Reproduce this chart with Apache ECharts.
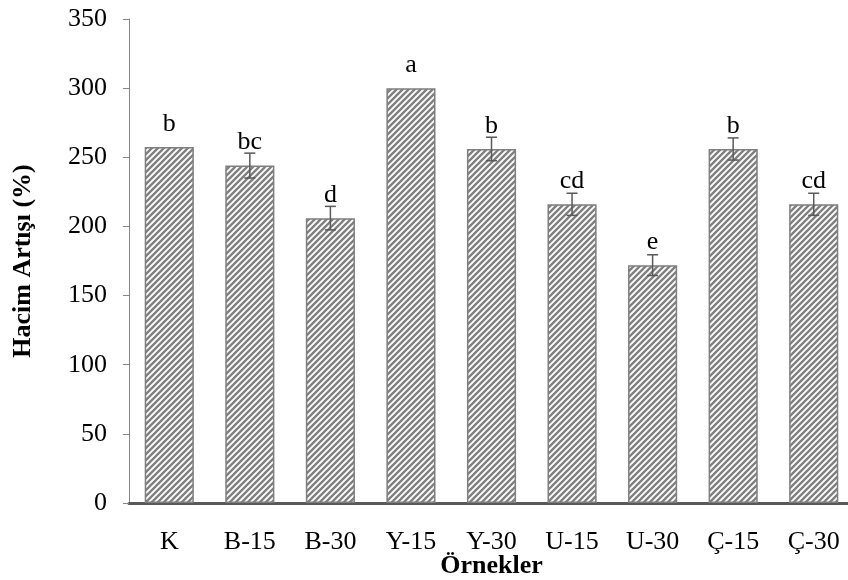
<!DOCTYPE html>
<html>
<head>
<meta charset="utf-8">
<script src="https://cdn.jsdelivr.net/npm/echarts@6/dist/echarts.min.js"></script>
<style>
html,body{margin:0;padding:0;background:#fff;}
#chart{width:848px;height:580px;}
</style>
</head>
<body>
<div id="chart"></div>
<script>
const categories = ['K', 'B-15', 'B-30', 'Y-15', 'Y-30', 'U-15', 'U-30', 'Ç-15', 'Ç-30'];
const values = [257.5, 244, 206, 300, 256, 216, 172, 256, 216];
const errors = [0, 9, 8.5, 0, 8.5, 8, 7.5, 8, 8];
const letters = ['b', 'bc', 'd', 'a', 'b', 'cd', 'e', 'b', 'cd'];
const yTicks = { min: 0, max: 350, interval: 50 };

const FONT = '"Liberation Serif", "Times New Roman", serif';

function makePattern() {
  const s = 6;
  const c = document.createElement('canvas');
  c.width = s; c.height = s;
  const ctx = c.getContext('2d');
  ctx.fillStyle = '#ffffff';
  ctx.fillRect(0, 0, s, s);
  ctx.strokeStyle = '#808080';
  ctx.lineWidth = 2.4;
  ctx.beginPath();
  for (let k = -1; k <= 1; k++) {
    ctx.moveTo(k * s - 1, s + 1);
    ctx.lineTo(k * s + s + 1, -1);
  }
  ctx.stroke();
  return c;
}

const errData = values.map((v, i) => [i, v - errors[i], v + errors[i]]);

const chart = echarts.init(document.getElementById('chart'), null, { renderer: 'canvas' });
chart.setOption({
  backgroundColor: '#ffffff',
  animation: false,
  grid: { left: 129, right: -6, top: 19, bottom: 77, containLabel: false, outerBoundsMode: 'none' },
  xAxis: {
    type: 'category',
    data: categories,
    name: 'Örnekler',
    nameLocation: 'middle',
    nameGap: 50,
    nameMoveOverlap: false,
    nameTextStyle: { fontFamily: FONT, fontSize: 26, fontWeight: 'bold', color: '#000' },
    axisLine: { lineStyle: { color: '#595959', width: 3 } },
    axisTick: { show: false },
    axisLabel: { fontFamily: FONT, fontSize: 26, color: '#000', margin: 26 }
  },
  yAxis: {
    type: 'value',
    min: yTicks.min, max: yTicks.max, interval: yTicks.interval,
    name: 'Hacim Artışı (%)',
    nameLocation: 'middle',
    nameGap: 93,
    nameRotate: 90,
    nameMoveOverlap: false,
    nameTextStyle: { fontFamily: FONT, fontSize: 26, fontWeight: 'bold', color: '#000' },
    axisLine: { show: true, lineStyle: { color: '#868686', width: 1 } },
    axisTick: { show: true, inside: false, length: 6, lineStyle: { color: '#868686' } },
    splitLine: { show: false },
    axisLabel: { fontFamily: FONT, fontSize: 26, color: '#000', margin: 22 }
  },
  series: [
    {
      type: 'bar',
      data: values,
      barWidth: '61%',
      itemStyle: {
        color: { image: makePattern(), repeat: 'repeat' },
        borderColor: '#7f7f7f',
        borderWidth: 1.5
      },
      label: {
        show: true,
        position: 'top',
        distance: 10,
        fontFamily: FONT,
        fontSize: 26,
        color: '#000',
        formatter: p => letters[p.dataIndex]
      },
      z: 2
    },
    {
      type: 'custom',
      data: errData,
      z: 3,
      renderItem: function (params, api) {
        const x = api.value(0);
        const lo = api.coord([x, api.value(1)]);
        const hi = api.coord([x, api.value(2)]);
        if (Math.abs(hi[1] - lo[1]) < 0.5) return { type: 'group', children: [] };
        const hw = 5.5;
        const st = { stroke: '#595959', lineWidth: 1.5 };
        return {
          type: 'group',
          children: [
            { type: 'line', shape: { x1: lo[0], y1: lo[1], x2: hi[0], y2: hi[1] }, style: st },
            { type: 'line', shape: { x1: hi[0] - hw, y1: hi[1], x2: hi[0] + hw, y2: hi[1] }, style: st },
            { type: 'line', shape: { x1: lo[0] - hw, y1: lo[1], x2: lo[0] + hw, y2: lo[1] }, style: st }
          ]
        };
      }
    }
  ]
});
</script>
</body>
</html>
